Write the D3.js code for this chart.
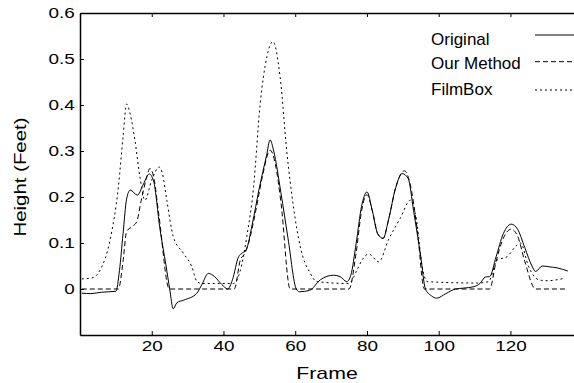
<!DOCTYPE html>
<html>
<head>
<meta charset="utf-8">
<script src="https://cdn.jsdelivr.net/npm/d3@7"></script>
<style>
  body { margin: 0; background: #fff; }
  text { font-family: "Liberation Sans", Arial, Helvetica, sans-serif; fill: #000; }
</style>
</head>
<body>
<svg id="chart" width="574" height="383"></svg>
<script>
// frames / values
const origFrames = [0.5, 3, 6, 10, 11, 12, 13, 14, 16, 17.5, 19.3, 20.5, 22.3, 24, 25, 26, 27, 29, 32.5, 34, 35.8, 37.5, 39.5, 41.2, 42.5, 44.2, 45.2, 46.3, 48, 50, 52, 53, 54, 56, 58, 60.3, 61.2, 64, 67, 70.7, 72.5, 74.4, 75.5, 77, 78.5, 80, 81.5, 83, 84.5, 86, 88, 89.8, 91.5, 93, 95, 96.3, 98, 99.4, 102, 104.7, 107, 109.8, 111.5, 113, 114.2, 116, 118, 120.2, 122, 124, 126, 127, 128.9, 131, 133, 136];
const origValues = [-0.009, -0.01, -0.007, -0.005, 0.04, 0.12, 0.196, 0.215, 0.204, 0.225, 0.25, 0.235, 0.13, 0.05, 0.0, -0.043, -0.03, -0.024, -0.01, 0.01, 0.034, 0.027, 0.01, 0.0, 0.02, 0.07, 0.078, 0.085, 0.14, 0.22, 0.29, 0.324, 0.3, 0.21, 0.11, 0.0, -0.006, -0.003, 0.02, 0.03, 0.027, 0.016, 0.03, 0.1, 0.18, 0.211, 0.17, 0.12, 0.11, 0.15, 0.22, 0.251, 0.24, 0.17, 0.07, 0.0, -0.015, -0.02, -0.01, 0.0, 0.002, 0.005, 0.012, 0.026, 0.027, 0.07, 0.12, 0.141, 0.13, 0.09, 0.05, 0.038, 0.05, 0.048, 0.046, 0.039];

const oursFrames = [0.5, 10.7, 12, 13, 14.4, 15.8, 17, 18.5, 19.5, 20.5, 22, 24.9, 43, 44.7, 46, 47, 49, 51, 53, 54.5, 56, 58.6, 75, 77, 78.5, 80, 81.5, 83, 84.5, 86, 88, 90.4, 92, 94, 96, 114.2, 116, 118, 120.2, 122, 124, 127, 136];
const oursValues = [0, 0, 0.06, 0.125, 0.135, 0.146, 0.19, 0.24, 0.262, 0.245, 0.16, 0, 0, 0.063, 0.078, 0.1, 0.17, 0.25, 0.302, 0.27, 0.19, 0, 0, 0.08, 0.17, 0.205, 0.17, 0.12, 0.11, 0.15, 0.22, 0.257, 0.23, 0.13, 0, 0, 0.06, 0.11, 0.13, 0.115, 0.06, 0, 0];

const filmFrames = [0.5, 3.3, 5.6, 8.4, 10.7, 12, 13, 14, 15.3, 16.7, 18.1, 20, 22.1, 23, 24.2, 26, 28.8, 31.2, 32.6, 34, 42.8, 45, 46.5, 48.4, 50.2, 52.1, 53.8, 55.8, 57.7, 59.5, 61.4, 64.2, 66, 75, 77.2, 78.8, 80.5, 83.3, 86, 89.3, 92.1, 93.8, 95.4, 96.8, 110.7, 113.9, 116.3, 119, 121.4, 122.8, 125.1, 127.9, 130.2, 134.9];
const filmValues = [0.022, 0.024, 0.041, 0.107, 0.222, 0.33, 0.402, 0.38, 0.324, 0.244, 0.193, 0.237, 0.265, 0.25, 0.193, 0.114, 0.078, 0.048, 0.016, 0.012, 0.012, 0.05, 0.114, 0.222, 0.4, 0.505, 0.538, 0.46, 0.295, 0.179, 0.092, 0.034, 0.016, 0.012, 0.041, 0.065, 0.076, 0.059, 0.107, 0.154, 0.193, 0.15, 0.048, 0.016, 0.013, 0.016, 0.063, 0.07, 0.092, 0.1, 0.048, 0.02, 0.018, 0.023];

const xTicks = [20, 40, 60, 80, 100, 120];
const yTicks = [0, 0.1, 0.2, 0.3, 0.4, 0.5, 0.6];
const seriesNames = ["Original", "Our Method", "FilmBox"];
const dashes = [null, "5,3", "2,3"];

const svg = d3.select("#chart");
const mLeft = 80, mRight = 575, mTop = 13, mBottom = 335;

const x = d3.scaleLinear().domain([0, 138]).range([mLeft, mRight]);
const y = d3.scaleLinear().domain([-0.1, 0.6]).range([mBottom, mTop]);

// axes, ticks pointing inward
const xAxis = svg.append("g")
  .attr("transform", "translate(0," + mBottom + ")")
  .call(d3.axisBottom(x).tickValues(xTicks).tickSizeInner(-4).tickSizeOuter(0).tickPadding(6));
const xTop = svg.append("g")
  .attr("transform", "translate(0," + mTop + ")")
  .call(d3.axisTop(x).tickValues(xTicks).tickSizeInner(-4).tickSizeOuter(0).tickFormat(""));
const yAxis = svg.append("g")
  .attr("transform", "translate(" + mLeft + ",0)")
  .call(d3.axisLeft(y).tickValues(yTicks).tickSizeInner(-4).tickSizeOuter(0)
    .tickFormat(d => d === 0 ? "0" : d3.format(".1f")(d)));

[xAxis, xTop, yAxis].forEach(g => {
  g.select(".domain").attr("stroke", "#000").attr("stroke-width", 1.5);
  g.selectAll(".tick line").attr("stroke", "#000");
  g.selectAll("text").style("font-size", "14px").style("font-family", "Liberation Sans, Arial, sans-serif");
});
// the reference lettering is wide: stretch tick labels horizontally
xAxis.selectAll(".tick text").attr("transform", "scale(1.35,1)");
yAxis.selectAll(".tick text").attr("x", -3.8).attr("transform", "scale(1.35,1)");

svg.append("text")
  .attr("transform", "translate(327,379) scale(1.25,1)")
  .attr("text-anchor", "middle")
  .style("font-size", "17px")
  .text("Frame");

svg.append("text")
  .attr("transform", "translate(25.5,177) rotate(-90) scale(1.2,1)")
  .attr("text-anchor", "middle")
  .style("font-size", "17px")
  .text("Height (Feet)");

// lines
const line = d3.line()
  .x(d => x(d[0]))
  .y(d => y(d[1]))
  .curve(d3.curveMonotoneX);

const series = [
  d3.zip(origFrames, origValues),
  d3.zip(oursFrames, oursValues),
  d3.zip(filmFrames, filmValues)
];

series.forEach((s, i) => {
  svg.append("path")
    .datum(s)
    .attr("fill", "none")
    .attr("stroke", "#000")
    .attr("stroke-width", 1)
    .attr("stroke-dasharray", dashes[i])
    .attr("d", line);
});

// legend
const legendText = [45, 69, 95];
const legendLine = [35, 61.7, 90];
seriesNames.forEach((name, i) => {
  svg.append("text")
    .attr("x", 431).attr("y", legendText[i])
    .style("font-size", "17px")
    .text(name);
  svg.append("line")
    .attr("x1", 535).attr("x2", 574)
    .attr("y1", legendLine[i]).attr("y2", legendLine[i])
    .attr("stroke", "#000")
    .attr("stroke-width", 1)
    .attr("stroke-dasharray", dashes[i]);
});
</script>
</body>
</html>
